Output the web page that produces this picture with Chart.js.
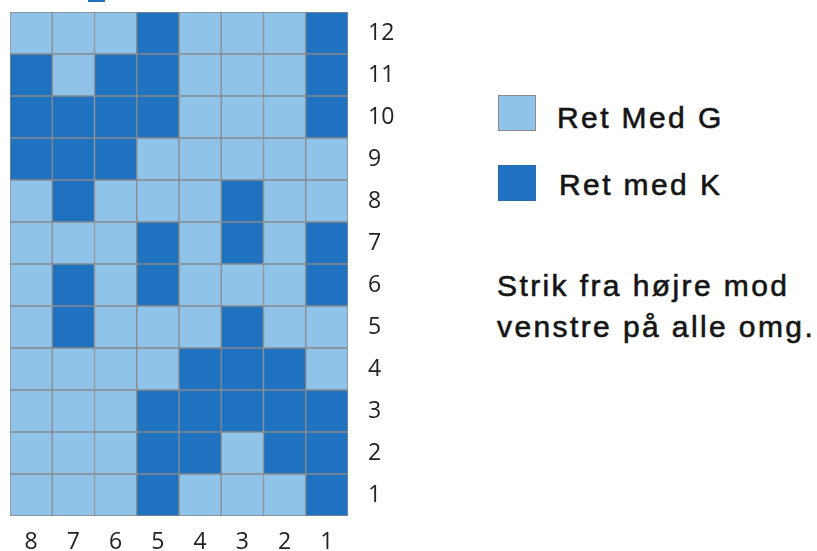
<!DOCTYPE html>
<html>
<head>
<meta charset="utf-8">
<script src="https://cdn.jsdelivr.net/npm/chart.js@4"></script>
<style>
  body { margin: 0; background: #fff; width: 817px; height: 551px; position: relative; overflow: hidden; }
  #chart { position: absolute; left: 0; top: 0; }
  .box { position: absolute; width: 36px; height: 34px; border: 1px solid #8a8a8a; }
  .txt { position: absolute; font-family: "Liberation Sans", Arial, sans-serif;
         font-size: 30px; line-height: 41px; color: #151515; letter-spacing: 2.4px; white-space: nowrap;
         -webkit-text-stroke: 0.6px #151515; }
  #mark { position: absolute; left: 88px; top: 0; width: 17px; height: 2px; background: #1f72c0; }
</style>
</head>
<body>
<div id="mark"></div>
<canvas id="chart" width="410" height="551"></canvas>

<div class="box" style="left:498px; top:95px; background:#8fc3ea;"></div>
<div class="txt" style="left:557px; top:97px;">Ret Med G</div>
<div class="box" style="left:498px; top:165px; background:#1f72c0; border-color:#2a6aa8;"></div>
<div class="txt" style="left:559px; top:164px;">Ret med K</div>
<div class="txt" style="left:497px; top:265px;">Strik fra højre mod<br>venstre på alle omg.</div>

<script>
// columns read left to right, rows bottom to top
const columns = ['8', '7', '6', '5', '4', '3', '2', '1'];
const rowLabels = ['1', '2', '3', '4', '5', '6', '7', '8', '9', '10', '11', '12'];

// 0 = Ret Med G (light), 1 = Ret med K (dark)
const row1  = [0, 0, 0, 1, 0, 0, 0, 1];
const row2  = [0, 0, 0, 1, 1, 0, 1, 1];
const row3  = [0, 0, 0, 1, 1, 1, 1, 1];
const row4  = [0, 0, 0, 0, 1, 1, 1, 0];
const row5  = [0, 1, 0, 0, 0, 1, 0, 0];
const row6  = [0, 1, 0, 1, 0, 0, 0, 1];
const row7  = [0, 0, 0, 1, 0, 1, 0, 1];
const row8  = [0, 1, 0, 0, 0, 1, 0, 0];
const row9  = [1, 1, 1, 0, 0, 0, 0, 0];
const row10 = [1, 1, 1, 1, 0, 0, 0, 1];
const row11 = [1, 0, 1, 1, 0, 0, 0, 1];
const row12 = [0, 0, 0, 1, 0, 0, 0, 1];

const rows = [row1, row2, row3, row4, row5, row6, row7, row8, row9, row10, row11, row12];
const stitchColors = ['#8fc3ea', '#1f72c0'];

var datasets = rows.map(function (row, i) {
  return {
    label: 'Omg ' + rowLabels[i],
    data: row.map(function () { return 1; }),
    backgroundColor: row.map(function (s) { return stitchColors[s]; }),
    borderColor: '#8a8a8a',
    borderWidth: 1,
    borderSkipped: false,
    barPercentage: 1,
    categoryPercentage: 1,
  };
});

var labelFont = { family: '"Open Sans", sans-serif', size: 23 };

new Chart(document.getElementById('chart'), {
  type: 'bar',
  data: { labels: columns, datasets: datasets },
  options: {
    responsive: false,
    animation: false,
    layout: { padding: { left: 10, top: 12, right: 10, bottom: 0 } },
    plugins: { legend: { display: false }, tooltip: { enabled: false } },
    scales: {
      x: {
        stacked: true,
        grid: { display: false, drawTicks: false },
        border: { display: false },
        ticks: { color: '#222', font: labelFont, padding: 13 },
        afterFit: function (scale) {
          scale.height = 35;
          scale.paddingLeft = 0;
          scale.paddingRight = 0;
        },
      },
      y: {
        stacked: true,
        position: 'right',
        min: 0,
        max: rowLabels.length,
        grid: { display: false, drawTicks: false },
        border: { display: false },
        ticks: {
          color: '#222',
          font: labelFont,
          padding: 20,
          callback: function (v) { return rowLabels[Math.round(v - 0.5)]; },
        },
        afterBuildTicks: function (scale) {
          scale.ticks = rowLabels.map(function (r, i) { return { value: i + 0.5 }; });
        },
        afterFit: function (scale) {
          scale.width = 52;
          scale.paddingTop = 0;
          scale.paddingBottom = 0;
        },
      },
    },
  },
});
</script>
</body>
</html>
